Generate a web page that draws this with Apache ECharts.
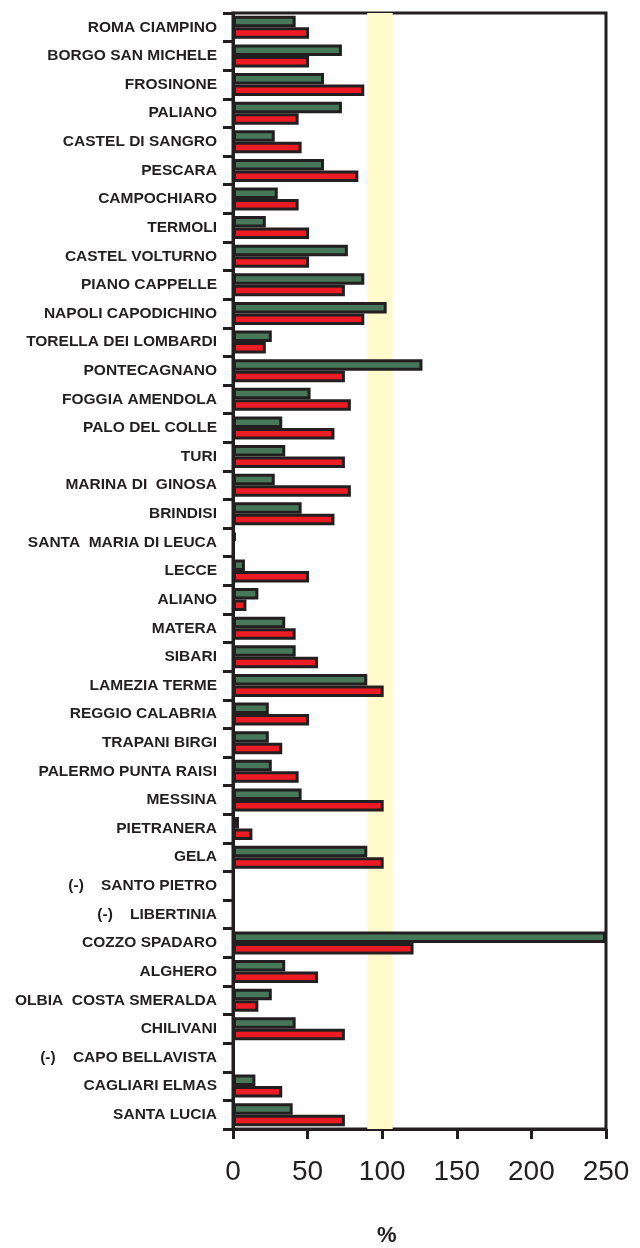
<!DOCTYPE html>
<html>
<head>
<meta charset="utf-8">
<script src="https://cdn.jsdelivr.net/npm/echarts@6/dist/echarts.min.js"></script>
<style>
  html, body { margin: 0; padding: 0; background: #fff; }
  #main { width: 640px; height: 1248px; }
</style>
</head>
<body>
<div id="main"></div>
<script>
var stations = [
  'ROMA CIAMPINO', 'BORGO SAN MICHELE', 'FROSINONE', 'PALIANO', 'CASTEL DI SANGRO',
  'PESCARA', 'CAMPOCHIARO', 'TERMOLI', 'CASTEL VOLTURNO', 'PIANO CAPPELLE',
  'NAPOLI CAPODICHINO', 'TORELLA DEI LOMBARDI', 'PONTECAGNANO', 'FOGGIA AMENDOLA', 'PALO DEL COLLE',
  'TURI', 'MARINA DI  GINOSA', 'BRINDISI', 'SANTA  MARIA DI LEUCA', 'LECCE',
  'ALIANO', 'MATERA', 'SIBARI', 'LAMEZIA TERME', 'REGGIO CALABRIA',
  'TRAPANI BIRGI', 'PALERMO PUNTA RAISI', 'MESSINA', 'PIETRANERA', 'GELA',
  '(-)    SANTO PIETRO', '(-)    LIBERTINIA', 'COZZO SPADARO', 'ALGHERO', 'OLBIA  COSTA SMERALDA',
  'CHILIVANI', '(-)    CAPO BELLAVISTA', 'CAGLIARI ELMAS', 'SANTA LUCIA'
];

// green bars (first series)
var greenValues = [
  42, 73, 61, 73, 28,
  61, 30, 22, 77, 88,
  103, 26, 127, 52, 33,
  35, 28, 46, 2, 8,
  17, 35, 42, 90, 24,
  24, 26, 46, 4, 90,
  '-', '-', 250, 35, 26,
  42, '-', 15, 40
];

// red bars (second series)
var redValues = [
  51, 51, 88, 44, 46,
  84, 44, 51, 51, 75,
  88, 22, 75, 79, 68,
  75, 79, 68, '-', 51,
  9, 42, 57, 101, 51,
  33, 44, 101, 13, 101,
  '-', '-', 121, 57, 17,
  75, '-', 33, 75
];

var xTicks = [0, 50, 100, 150, 200, 250];
var band = [90, 107];

var ink = '#231f20';
var myChart = echarts.init(document.getElementById('main'));

var option = {
  backgroundColor: '#fff',
  animation: false,
  grid: {
    left: 233, right: 34, top: 13, bottom: 119,
    show: true, borderColor: ink, borderWidth: 3, backgroundColor: 'transparent'
  },
  xAxis: {
    type: 'value',
    min: xTicks[0],
    max: xTicks[xTicks.length - 1],
    interval: 50,
    axisLine: { show: true, lineStyle: { color: ink, width: 3 } },
    axisTick: { show: true, length: 10, lineStyle: { color: ink, width: 3 } },
    splitLine: { show: false },
    axisLabel: {
      color: ink, fontSize: 28, margin: 29,
      fontFamily: 'Liberation Sans, Arial, sans-serif'
    }
  },
  yAxis: {
    type: 'category',
    inverse: true,
    data: stations,
    axisLine: { show: true, lineStyle: { color: ink, width: 3 } },
    axisTick: { show: true, length: 10, lineStyle: { color: ink, width: 3 } },
    axisLabel: {
      color: ink, fontSize: 15.5, fontWeight: 'bold', margin: 16,
      fontFamily: 'Liberation Sans, Arial, sans-serif',
      interval: 0
    }
  },
  graphic: [{
    type: 'text',
    left: 377, top: 1225,
    style: {
      text: '%', fill: ink, fontSize: 22, fontWeight: 'bold',
      fontFamily: 'Liberation Sans, Arial, sans-serif'
    }
  }],
  series: [
    {
      type: 'line',
      data: [],
      z: 1,
      silent: true,
      markArea: {
        silent: true,
        itemStyle: { color: '#fff9cc' },
        data: [[{ xAxis: band[0] }, { xAxis: band[1] }]]
      }
    },
    {
      type: 'bar',
      data: greenValues,
      z: 3,
      barWidth: 11.5,
      barGap: '0%',
      itemStyle: { color: '#47785a', borderColor: ink, borderWidth: 3 }
    },
    {
      type: 'bar',
      data: redValues,
      z: 3,
      barWidth: 11.5,
      barGap: '0%',
      itemStyle: { color: '#ed1c24', borderColor: ink, borderWidth: 3 }
    }
  ]
};

myChart.setOption(option);
</script>
</body>
</html>
